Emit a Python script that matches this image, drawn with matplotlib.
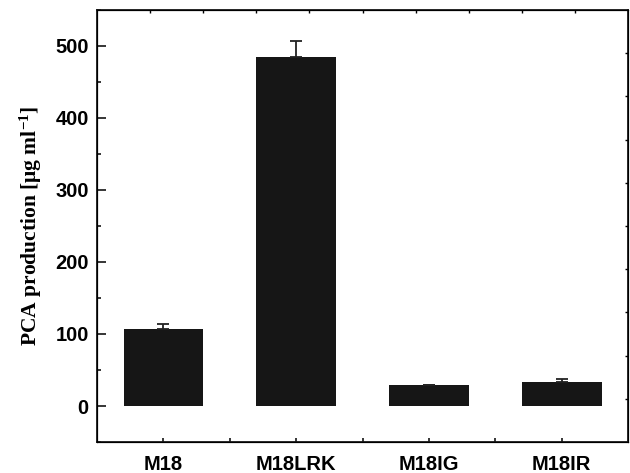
import matplotlib
matplotlib.use('Agg')
import matplotlib.pyplot as plt
import numpy as np

# data
strains = ['M18', 'M18LRK', 'M18IG', 'M18IR']
pca = [107.5, 484, 28.5, 34]
pca_err = [7, 23, 1, 3]

plt.rcParams['mathtext.fontset'] = 'custom'
plt.rcParams['mathtext.bf'] = 'Liberation Serif:bold'
plt.rcParams['mathtext.rm'] = 'Liberation Serif:bold'
plt.rcParams['mathtext.default'] = 'bf'

fig = plt.figure(figsize=(6.3, 4.73), dpi=100)
ax = fig.add_axes([0.154, 0.0655, 0.843, 0.9135])

x = np.arange(1, len(strains) + 1)
ax.bar(x, pca, width=0.6, color='#161616', zorder=2)
ax.errorbar(x, pca, yerr=[np.zeros(len(pca)), pca_err], fmt='none',
            ecolor='#222222', elinewidth=1.3, capsize=4.5, capthick=1.3, zorder=3)

ax.set_xlim(0.5, 4.5)
ax.set_ylim(-50, 550)
ax.set_xticks(x)
ax.set_xticks([1.5, 2.5, 3.5], minor=True)
ax.set_xticklabels(strains, fontfamily='Liberation Sans', fontweight='bold', fontsize=14.5)
ax.set_yticks(range(0, 501, 100))
ax.set_yticks(range(-50, 551, 50), minor=True)
for t in ax.get_yticklabels():
    t.set_fontfamily('Liberation Sans')
    t.set_fontweight('bold')
    t.set_fontsize(14.5)

ax.tick_params(axis='y', which='major', direction='in', length=6.5, width=1.1, pad=6)
ax.tick_params(axis='y', which='minor', direction='in', length=3, width=1.1)
ax.tick_params(axis='x', which='major', direction='in', length=3, width=1.1, pad=9)
ax.tick_params(axis='x', which='minor', direction='in', length=3, width=1.1)

for s in ax.spines.values():
    s.set_linewidth(1.3)
    s.set_color('#1a1a1a')

ax.set_ylabel('PCA production [μg ml$^{\\mathbf{-1}}$]', fontfamily='Liberation Serif',
              fontweight='bold', fontsize=15.5, labelpad=8)

# small mirrored ticks on top and right, as in the original
axt = ax.twiny()
axt.set_xlim(0, 10)
axt.set_xticks(range(1, 10))
axt.tick_params(axis='x', direction='in', length=2, width=1, labeltop=False)
axr = ax.twinx()
axr.set_ylim(0, 10)
axr.set_yticks(range(1, 10))
axr.tick_params(axis='y', direction='in', length=2.5, width=1, labelright=False)

fig.savefig('out.png', dpi=100)
